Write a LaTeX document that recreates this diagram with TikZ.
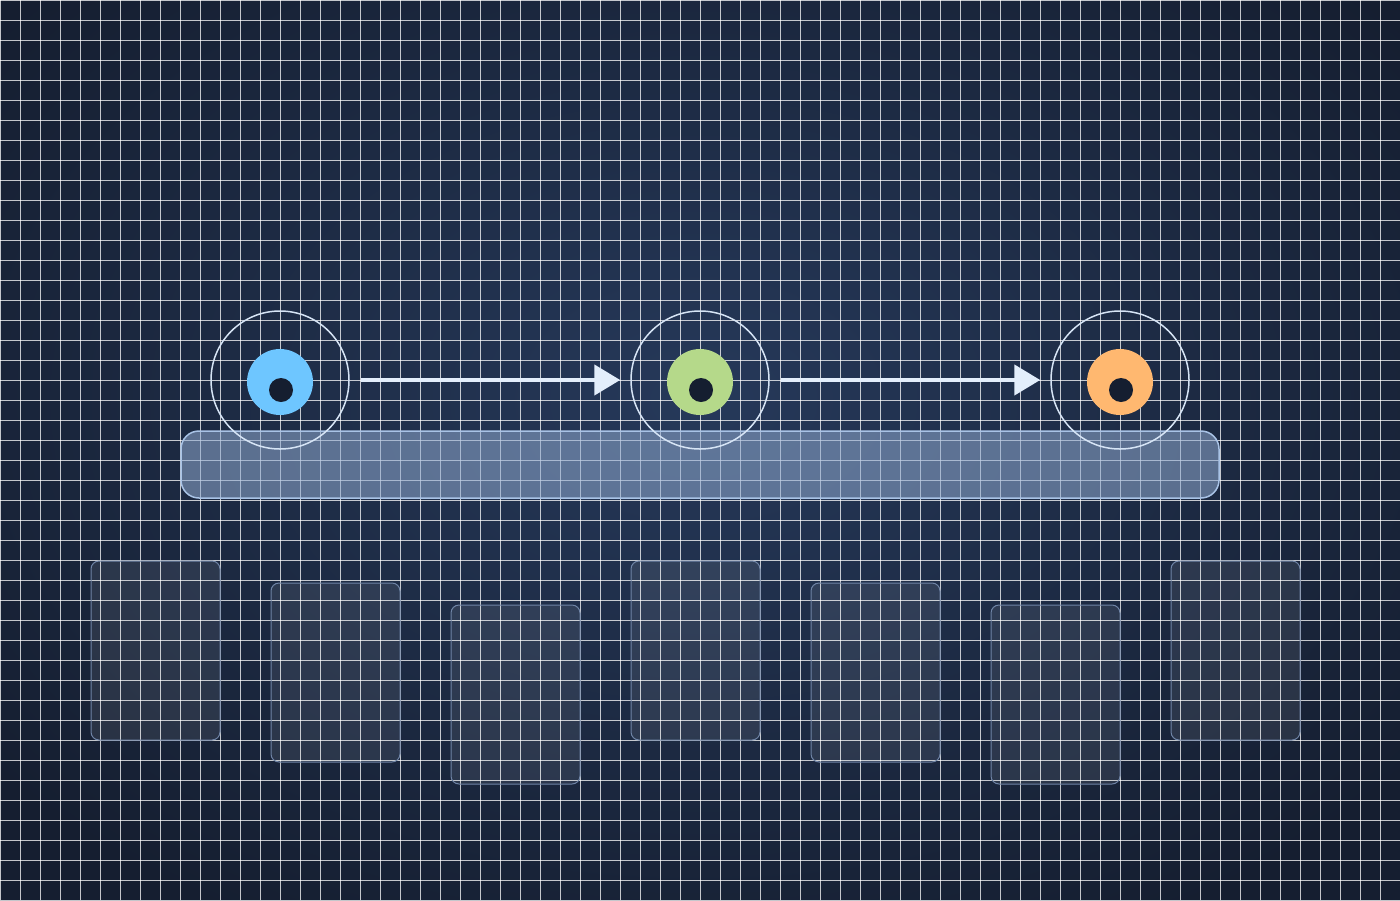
\documentclass[tikz,border=0pt]{standalone}
\usetikzlibrary{arrows.meta}
\begin{document}
\begin{tikzpicture}[x=1pt,y=-1pt,
  gridl/.style={white,opacity=0.75,line width=0.9pt},
  halo/.style={circle,minimum size=138pt,inner sep=0pt,draw=haloC,line width=1.5pt},
  card/.style={draw=cardC,line width=1pt,fill=white,fill opacity=0.08,rounded corners=8pt},
  flow/.style={draw=flowC,line width=4.5pt,-{Triangle[length=26pt,width=30pt]},shorten <=11pt,shorten >=10pt}]
\definecolor{bgin}{HTML}{26395A}\definecolor{bgout}{HTML}{151E30}
\definecolor{haloC}{HTML}{D6E4F5}\definecolor{cardC}{HTML}{6F84A6}
\definecolor{flowC}{HTML}{E3EEFB}\definecolor{barF}{HTML}{8FA9CF}\definecolor{barD}{HTML}{A9C3E6}
\useasboundingbox (0,0) rectangle (1400,900);
\shade[inner color=bgin,outer color=bgout] (-200,-200) rectangle (1600,1000);
\foreach \i in {0,20,...,1400} \draw[gridl] (\i,0) -- (\i,900);
\foreach \j in {0,20,...,900} \draw[gridl] (0,\j) -- (1400,\j);
\foreach \x/\y in {91/561,271/583,451/605,631/561,811/583,991/605,1171/561}
  \path[card] (\x,\y) rectangle ++(129,179);
\path[draw=barD,line width=1.5pt,fill=barF,fill opacity=0.55,rounded corners=18pt] (181,431) rectangle (1219,498);
\definecolor{cA}{HTML}{6EC6FF}\definecolor{cB}{HTML}{B5D98A}\definecolor{cC}{HTML}{FFB870}
\foreach \n/\x/\c in {a/280/cA,b/700/cB,c/1120/cC}{
  \node[halo] (\n) at (\x,380) {};
  \fill[\c] (\x,382) circle (33);
  \fill[bgout] (\x+1,390) circle (12);
}
\draw[flow] (a) -- (b);
\draw[flow] (b) -- (c);
\end{tikzpicture}
\end{document}
